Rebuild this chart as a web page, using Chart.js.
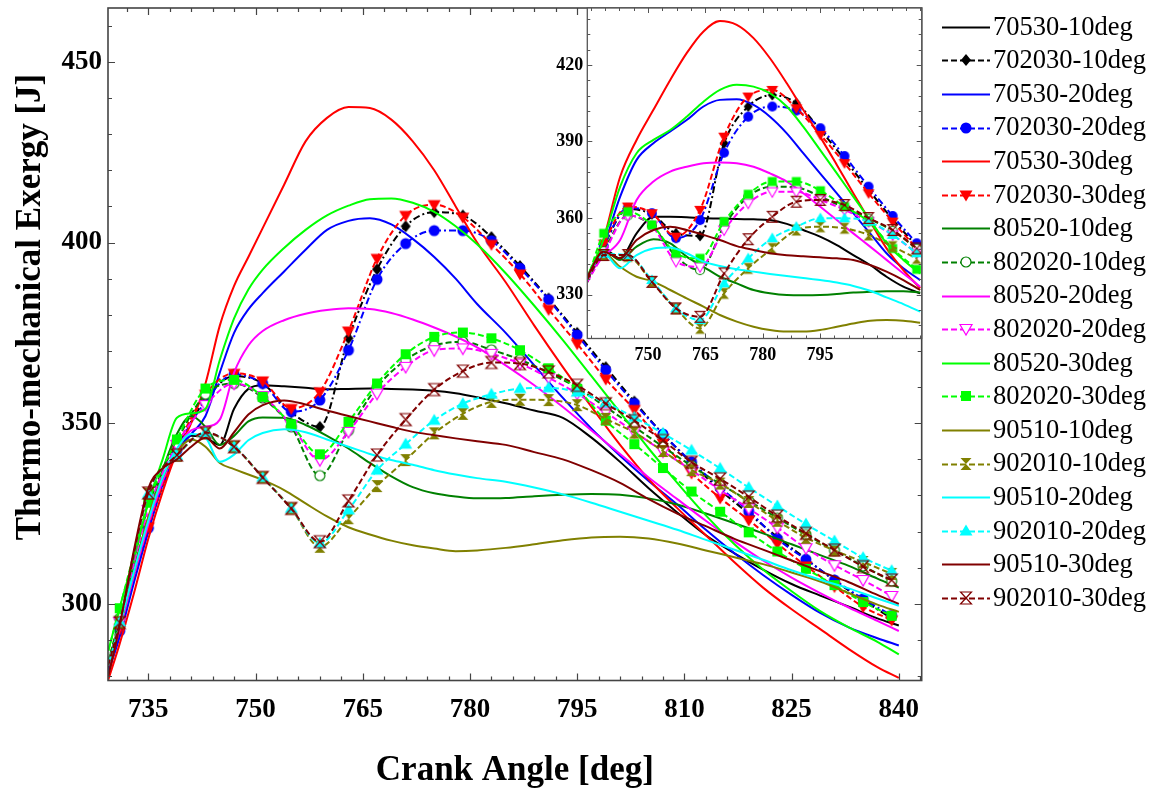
<!DOCTYPE html>
<html><head><meta charset="utf-8">
<script src="https://cdn.jsdelivr.net/npm/chart.js@4.4.1/dist/chart.umd.min.js"></script>
<style>
html,body{margin:0;padding:0;background:#fff;}
#wrap{position:relative;width:1159px;height:793px;overflow:hidden;}
canvas{position:absolute;left:0;top:0;}
</style></head><body>
<div id="wrap"><canvas id="main" width="1159" height="793"></canvas><canvas id="inset" width="1159" height="793"></canvas></div>
<script>
// ---------- tick labels ----------
const xTicksMain = [735, 750, 765, 780, 795, 810, 825, 840];
const yTicksMain = [300, 350, 400, 450];
const xTicksInset = [750, 765, 780, 795];
const yTicksInset = [330, 360, 390, 420];

// ---------- series ----------
const seriesNames = ['70530-10deg','702030-10deg','70530-20deg','702030-20deg','70530-30deg','702030-30deg',
  '80520-10deg','802020-10deg','80520-20deg','802020-20deg','80520-30deg','802020-30deg',
  '90510-10deg','902010-10deg','90510-20deg','902010-20deg','90510-30deg','902010-30deg'];
const seriesColors = ['#000000','#000000','#0000ff','#0000ff','#ff0000','#ff0000',
  '#008000','#008000','#ff00ff','#ff00ff','#00ff00','#00ff00',
  '#808000','#808000','#00ffff','#00ffff','#800000','#800000'];
const seriesMarkers = [null,'diamond',null,'circle',null,'triDown',null,'circleOpen',null,'triDownOpen',null,'square',
  null,'hourglass',null,'triUp',null,'hourglassOpen'];

// ---------- main chart data ----------
const lineAngles = [729.4,731,733,735,737,739,741,743,745,747,749,751,754,757,760,763,766,769,772,775,778,781,785,789,793,797,801,805,809,813,817,821,825,829,833,837,840];
const markerAngles = [729.4,731,735,739,743,747,751,755,759,763,767,771,775,779,783,787,791,795,799,803,807,811,815,819,823,827,831,835,839];

const s70530_10 = [282,293,308,322,334,342,346.5,346,344,354,359.5,360.5,360.2,359.8,359.4,359.5,359.6,359.5,359.3,359,358.3,357.2,355.5,353.5,351.5,346,339.3,332,325.3,319,314,309.5,305.5,302.3,299.2,296,294];
const s70530_20 = [281,291,306,320,333,342,347,352,364,375,381.5,386,392,398,403.5,406,406.7,405,401,396,390,383,375,366,357,348.5,341,334,327.5,320.5,314,308,302.5,297.5,293.5,290.5,288.5];
const s70530_30 = [279,289,303,318,331,342,350,361,377,388,396,404,416,428,434.5,437.5,437.2,434,428,420,410,400,389,377,365.5,354.5,344,334.5,326.5,319,311.5,304.5,298.5,293,287.5,282.5,279.5];
const s80520_10 = [284,295,310,324,337,347,352,349,344,346.5,350.5,351.6,351.5,349.5,346.5,343,339,335.3,332.3,330.6,329.7,329.2,329.3,329.8,330.2,330.4,330.2,329.2,327.5,325,322.3,319.5,316.5,313.5,310.5,307,304.5];
const s80520_20 = [283,293,308,322,334,343,348,349,351,364,371.5,375.5,378.5,380.3,381.3,381.8,381.6,380.5,378.7,376.5,374,371,366,360.5,354.5,348,341.5,335,329,323,317.3,312,307.3,303,299,295.3,292.5];
const s80520_30 = [287,299,313,328,340,351.5,352.7,354,367.5,379,387,392.5,398.5,403.5,407.5,410.2,412,412.2,411,408.5,404.5,399.5,391.5,382.5,373,363,353,343,333.5,324.5,316.5,309.5,303.5,298,293.5,289.5,286];
const s90510_10 = [283,294,309,324,335,342,345.5,343.5,339,337.3,335.8,334.3,331.5,327.8,324.2,321.2,319.2,317.5,316.2,315.3,314.6,314.8,315.5,316.5,317.6,318.4,318.6,318.1,316.7,314.8,312.9,311,308.7,306.2,303,299.8,297.8];
const s90510_20 = [283,294,309,323,335,343,347,346,339.3,341.3,345.3,347.3,348.3,347.5,345.5,343.5,341.5,339.8,338.5,337,335.8,334.8,333.8,332.2,330.3,328,325.5,323,320.5,317.7,315,312.2,309.3,306.7,304.3,301.5,299.5];
const s90510_30 = [280,294,315,332,337.5,340,343.5,346,343,347.5,352.4,355,356.3,355.2,353.5,352,350.5,349,347.6,346.7,345.8,345,344,342,340,337,333.5,329,325,321.5,318,315,312,309,306,302.5,300];

const m702030_10 = [282,293,321,342.5,356.5,363,361,353,349,373.5,392.6,404.5,408.4,407.5,401.5,393.5,384.5,375,365.5,356,347,339,331.5,325,318.5,312.5,306.5,301,296];
const m702030_20 = [281,292.5,321,342.5,356,363.5,361,353.2,356.4,370.2,389.8,399.7,403.3,403.3,400.5,392.9,384.2,374.4,364.7,355.5,347,339.3,332.2,325.7,318,312.3,306.6,301.4,296.8];
const m702030_30 = [280,293.2,321.3,343,358,363.8,361.7,354.1,358.7,375.5,395.6,407.5,410.5,407,399.5,391.3,381.5,372,362.2,353.8,344.5,336.2,329.3,323.2,316.7,310.5,304.8,299.2,295.5];
const m802020_10 = [284,296,327,345,358,361,357,349,335.5,348,360,367.5,371.5,372.5,370.3,367.6,364,359.8,354.5,349,343.5,338.2,333.2,328.5,323.8,319.2,314.8,310.5,306.3];
const m802020_20 = [283,295,326,344,355,361,357.5,349.5,339.8,347.6,358.2,365.6,370.2,370.7,369.2,366.5,362.6,358.2,353,347.6,342.2,337,331.5,326.4,321.1,315.4,310.7,306.6,302.2];
const m802020_30 = [287,298.8,328,345.5,359.6,362,357.3,349.7,341.4,350.4,361,369.1,373.9,375.1,373.5,370.2,365.2,359.5,350.7,344.2,337.6,331.1,325.5,319.8,314.5,309.7,305.2,300.5,296.7];
const m902010_10 = [283,294.8,330.5,341,347.2,343.5,335,326.4,315.8,323.7,332.6,339.8,347.2,352.6,355.9,356.5,356.4,355,351.2,347.4,342.3,337,333.3,328.2,323,318.3,314.8,311.6,308.3];
const m902010_20 = [283,295,330.5,341,347.4,343.5,335,326.4,316.8,326,337,344.2,350.8,355.4,358,359.6,359.8,358.6,355.6,351.6,347.2,342.5,337.5,332.2,327.1,322.1,317.4,312.8,309.2];
const m902010_30 = [283,294.8,330.7,341.2,347.4,343.5,335,326.4,317.2,328.5,341.2,351,359.3,364.4,366.8,366.5,364.2,360.5,355.4,350.7,345.2,339.2,334.6,329.6,324.3,319.5,314.9,310.3,306.6];

// ---------- inset data ----------
const insetLineAngles = [734.1,738.3,742.7,747.0,751.4,755.8,760.1,764.5,768.8,773.2,777.6,781.9,786.3,790.6,795.0,799.4,803.7,808.1,812.4,816.8,821.2];
const insetMarkerAngles = [734.1,738.4,744.7,751.0,757.3,763.6,769.9,776.2,782.5,788.8,795.1,801.4,807.7,814.0,820.3];

const iS70530_10 = [335.7,348.1,344.2,354,360.5,360.5,360.3,359.9,359.8,359.6,359.5,359.2,357.7,355.3,352.7,349.4,345.5,341.6,337,333.1,330.5];
const iS70530_20 = [335.7,348.8,368.4,382.8,389.3,393.9,398.4,403.7,406.3,406.5,404.3,399.7,393.2,385.4,377.5,369.7,361.9,354,346.2,340.3,335.7];
const iS70530_30 = [335.1,351.4,376.2,390.6,402.4,414.1,424.6,433.1,437.2,435.7,430.5,422.6,412.8,402.4,391.9,380.8,369.7,358.6,348.1,339.6,332.5];
const iS80520_10 = [337,347.5,343.6,348.8,351.7,350.1,344.9,340.9,337,334.4,331.8,330.5,329.8,329.7,329.8,330.2,330.8,331.1,331.3,331.3,330.8];
const iS80520_20 = [337,344.9,351.4,367.1,374.3,378.2,380.1,381.5,381.8,381.5,380.1,377.5,374.3,369.7,364.5,359.2,354,348.8,343.6,338.3,333.1];
const iS80520_30 = [337,351.4,372.3,385.4,390.6,394.5,399.7,405.6,410.2,412.2,411.5,408.9,403.7,395.8,386.7,377.5,368.4,359.2,350.1,343.6,338.3];
const iS90510_10 = [337,346.2,340.9,337,335.1,331.8,328.5,325.3,322,319.4,317.4,316.1,315.5,315.5,316.1,317.4,318.7,319.8,320,319.8,319];
const iS90510_20 = [337,346.2,340.3,345.5,348.1,348.5,346.2,342.9,341.2,339.9,339,338.1,337.3,336.5,335.7,334.7,333.4,331.5,328.9,326.3,323.3];
const iS90510_30 = [337,346.8,344.2,351.4,355.3,356.6,355.3,353.4,351.4,349,347.5,346.2,345.4,345,344.6,344.2,343.6,341.6,339,335.7,331.8];

const iM702030_10 = [335,349,363.5,361.5,354,353,389.3,403.7,408.2,405,394.5,383,371,359.5,349];
const iM702030_20 = [335,349,364,361.9,352.1,359.2,385.6,399.7,403.7,402.1,395.2,384.3,372.3,360.8,350.1];
const iM702030_30 = [335,350,364.5,361.9,352.7,363.2,391.9,407.6,410.2,403,392.6,381.5,369.7,358.6,348.1];
const iM802020_10 = [335,347,361,357,345,339.6,356.9,368.4,372.3,372,368.4,364,359.8,355,348];
const iM802020_20 = [335,346,361,357,343,340.9,355.3,365.8,370.3,370.3,367.1,363.2,358.6,353.4,346.2];
const iM802020_30 = [336,354,362.5,357.3,346.2,344.2,358.6,369.3,374.3,374.3,370.7,364.5,358.6,348.1,339.9];
const iM902010_10 = [336,345.5,345,335,324.5,316.8,330.5,340.3,348.1,355.3,356.6,356,353.4,348.8,344.2];
const iM902010_20 = [336,345.9,345.5,335.7,324.6,320,334.4,344.2,352.1,356.6,359.9,359.9,358.6,353.4,346.2];
const iM902010_30 = [336,345.5,345.5,335,324.6,321.3,338.3,351.7,360.5,366.4,367.1,365.1,360,355.3,348.1];

const mainValues = [s70530_10,m702030_10,s70530_20,m702030_20,s70530_30,m702030_30,s80520_10,m802020_10,s80520_20,m802020_20,s80520_30,m802020_30,s90510_10,m902010_10,s90510_20,m902010_20,s90510_30,m902010_30];
const insetValues = [iS70530_10,iM702030_10,iS70530_20,iM702030_20,iS70530_30,iM702030_30,iS80520_10,iM802020_10,iS80520_20,iM802020_20,iS80520_30,iM802020_30,iS90510_10,iM902010_10,iS90510_20,iM902010_20,iS90510_30,iM902010_30];

// ---------- rendering ----------
const SERIF = "'Liberation Serif','Times New Roman',serif";
const DASH = [6,3];
const DASHDOT = [7,3,2,3];

function makeMarker(kind, color, scale) {
  const s = Math.ceil(16 * scale / 2) * 2;
  const c = document.createElement('canvas');
  c.width = s; c.height = s;
  const g = c.getContext('2d');
  g.translate(s / 2, s / 2);
  g.scale(scale, scale);
  g.lineWidth = 1.2;
  g.strokeStyle = color; g.fillStyle = color;
  g.beginPath();
  switch (kind) {
    case 'circle': g.arc(0, 0, 5.5, 0, Math.PI * 2); g.fill(); break;
    case 'circleOpen': g.arc(0, 0, 5, 0, Math.PI * 2); g.fillStyle = '#fff'; g.fill(); g.stroke(); break;
    case 'square': g.rect(-5, -5, 10, 10); g.fill(); break;
    case 'diamond': g.moveTo(0, -6); g.lineTo(5, 0); g.lineTo(0, 6); g.lineTo(-5, 0); g.closePath(); g.fill(); break;
    case 'triDown': g.moveTo(-6.5, -4.5); g.lineTo(6.5, -4.5); g.lineTo(0, 6.5); g.closePath(); g.fill(); break;
    case 'triDownOpen': g.moveTo(-6, -4.5); g.lineTo(6, -4.5); g.lineTo(0, 6); g.closePath(); g.fillStyle = '#fff'; g.fill(); g.stroke(); break;
    case 'triUp': g.moveTo(-6.5, 4.5); g.lineTo(6.5, 4.5); g.lineTo(0, -6.5); g.closePath(); g.fill(); break;
    case 'hourglass':
      g.moveTo(-5.5, -6); g.lineTo(5.5, -6); g.lineTo(0, 0); g.closePath();
      g.moveTo(-5.5, 6); g.lineTo(5.5, 6); g.lineTo(0, 0); g.closePath(); g.fill(); break;
    case 'hourglassOpen':
      g.moveTo(-5.5, -6); g.lineTo(5.5, -6); g.lineTo(0, 0); g.closePath();
      g.moveTo(-5.5, 6); g.lineTo(5.5, 6); g.lineTo(0, 0); g.closePath(); g.stroke(); break;
  }
  return c;
}
const mainMarkers = seriesMarkers.map((k, i) => k ? makeMarker(k, seriesColors[i], 1) : null);
const insetMarkers = seriesMarkers.map((k, i) => k ? makeMarker(k, seriesColors[i], 0.9) : null);

function dashFor(i) {
  if (!seriesMarkers[i]) return [];
  return (i === 1 || i === 3) ? DASHDOT : DASH;
}

function buildDatasets(values, lineX, markX, markers) {
  const n = values.length;
  return values.map((vals, i) => {
    const hasM = !!seriesMarkers[i];
    const xs = hasM ? markX : lineX;
    return {
      label: seriesNames[i],
      data: xs.map((x, j) => ({ x: x, y: vals[j] })),
      borderColor: seriesColors[i],
      backgroundColor: seriesColors[i],
      borderWidth: 2,
      borderDash: dashFor(i),
      cubicInterpolationMode: 'monotone',
      pointStyle: hasM ? markers[i] : 'circle',
      pointRadius: hasM ? (ctx => ctx.dataIndex === 0 ? 0 : 6) : 0,
      pointHoverRadius: 0,
      pointHitRadius: 0,
      order: n - i
    };
  });
}

function frameTicks(chart, cfg) {
  const { ctx, chartArea: a, scales } = chart;
  const xs = scales.x, ys = scales.y;
  ctx.save();
  ctx.strokeStyle = cfg.color;
  ctx.lineWidth = cfg.tickWidth;
  ctx.beginPath();
  for (let v = cfg.xMinorStart; v <= xs.max + 1e-6; v += cfg.xMinorStep) {
    if (v < xs.min) continue;
    const major = cfg.xMajor.some(m => Math.abs(m - v) < 1e-6);
    const L = major ? cfg.majorLen : cfg.minorLen;
    const px = Math.round(xs.getPixelForValue(v)) + 0.5;
    ctx.moveTo(px, a.bottom); ctx.lineTo(px, a.bottom - L);
    ctx.moveTo(px, a.top); ctx.lineTo(px, a.top + L);
  }
  for (let v = cfg.yMinorStart; v <= ys.max + 1e-6; v += cfg.yMinorStep) {
    if (v < ys.min) continue;
    const major = cfg.yMajor.some(m => Math.abs(m - v) < 1e-6);
    const L = major ? cfg.majorLen : cfg.minorLen;
    const py = Math.round(ys.getPixelForValue(v)) + 0.5;
    ctx.moveTo(a.left, py); ctx.lineTo(a.left + L, py);
    ctx.moveTo(a.right, py); ctx.lineTo(a.right - L, py);
  }
  ctx.stroke();
  ctx.lineWidth = cfg.frameWidth;
  ctx.strokeRect(a.left, a.top, a.right - a.left, a.bottom - a.top);
  ctx.restore();
}

const mainPlugin = {
  id: 'mainDeco',
  beforeDraw(chart) {
    const ctx = chart.ctx;
    ctx.save(); ctx.fillStyle = '#fff'; ctx.fillRect(0, 0, chart.width, chart.height); ctx.restore();
  },
  afterDraw(chart) {
    frameTicks(chart, { color: '#444', tickWidth: 1.2, frameWidth: 1.6, majorLen: 7, minorLen: 4,
      xMinorStart: 732, xMinorStep: 3, xMajor: xTicksMain,
      yMinorStart: 280, yMinorStep: 10, yMajor: yTicksMain });
    const ctx = chart.ctx;
    ctx.save();
    ctx.fillStyle = '#000';
    ctx.font = 'bold 35px ' + SERIF;
    ctx.textAlign = 'center';
    ctx.textBaseline = 'alphabetic';
    ctx.fillText('Crank Angle [deg]', (chart.chartArea.left + chart.chartArea.right) / 2, 780);
    ctx.translate(40, 307);
    ctx.rotate(-Math.PI / 2);
    ctx.fillText('Thermo-mechanical Exergy [J]', 0, 0);
    ctx.restore();
    // legend
    ctx.save();
    ctx.font = '26.5px ' + SERIF;
    ctx.textBaseline = 'middle';
    ctx.textAlign = 'left';
    seriesNames.forEach((name, i) => {
      const y = 26.7 + 33.6 * i;
      ctx.strokeStyle = seriesColors[i];
      ctx.lineWidth = 2;
      ctx.setLineDash(seriesMarkers[i] ? DASH : []);
      ctx.beginPath(); ctx.moveTo(942, Math.round(y) + 0.5); ctx.lineTo(990, Math.round(y) + 0.5); ctx.stroke();
      ctx.setLineDash([]);
      if (mainMarkers[i]) {
        const m = mainMarkers[i];
        ctx.drawImage(m, Math.round(966 - m.width / 2), Math.round(y - m.height / 2));
      }
      ctx.fillStyle = '#000';
      ctx.fillText(name, 993, y + 1);
    });
    ctx.restore();
  }
};

const insetPlugin = {
  id: 'insetDeco',
  beforeDatasetsDraw(chart) {
    const { ctx, chartArea: a } = chart;
    ctx.save(); ctx.fillStyle = '#fff'; ctx.fillRect(a.left, a.top, a.right - a.left, a.bottom - a.top); ctx.restore();
  },
  afterDraw(chart) {
    frameTicks(chart, { color: '#555', tickWidth: 1, frameWidth: 1.3, majorLen: 5, minorLen: 3,
      xMinorStart: 735, xMinorStep: 3.75, xMajor: xTicksInset,
      yMinorStart: 318, yMinorStep: 6, yMajor: yTicksInset });
  }
};

function axisOpts(min, max, ticksArr, fontSize, pad, fitFn) {
  return {
    type: 'linear', min: min, max: max,
    grid: { display: false, drawTicks: false },
    border: { display: false },
    afterBuildTicks: s => { s.ticks = ticksArr.map(v => ({ value: v })); },
    afterFit: s => { fitFn(s); s.paddingTop = 0; s.paddingBottom = 0; s.paddingLeft = 0; s.paddingRight = 0; },
    ticks: { padding: pad, color: '#000', autoSkip: false, maxRotation: 0,
      font: { family: SERIF, size: fontSize, weight: 'bold' }, callback: v => String(v) }
  };
}

new Chart(document.getElementById('main'), {
  type: 'line',
  data: { datasets: buildDatasets(mainValues, lineAngles, markerAngles, mainMarkers) },
  options: {
    responsive: false, animation: false, devicePixelRatio: 1,
    layout: { padding: { left: 0, top: 8, right: 1159 - 921.7, bottom: 793 - 680.5 - 60 } },
    plugins: { legend: { display: false }, tooltip: { enabled: false } },
    events: [],
    scales: {
      x: axisOpts(729.36, 843.2, xTicksMain, 27, 13, s => { s.height = 60; }),
      y: axisOpts(278.8, 464.9, yTicksMain, 27, 6, s => { s.width = 108; })
    }
  },
  plugins: [mainPlugin]
});

new Chart(document.getElementById('inset'), {
  type: 'line',
  data: { datasets: buildDatasets(insetValues, insetLineAngles, insetMarkerAngles, insetMarkers) },
  options: {
    responsive: false, animation: false, devicePixelRatio: 1,
    layout: { padding: { left: 540, top: 8, right: 1159 - 921.7, bottom: 793 - 338.5 - 40 } },
    plugins: { legend: { display: false }, tooltip: { enabled: false } },
    events: [],
    scales: {
      x: axisOpts(734.1, 821.6, xTicksInset, 18, 6, s => { s.height = 40; }),
      y: axisOpts(312.8, 442.3, yTicksInset, 18, 4, s => { s.width = 47.3; })
    }
  },
  plugins: [insetPlugin]
});
</script></body></html>
